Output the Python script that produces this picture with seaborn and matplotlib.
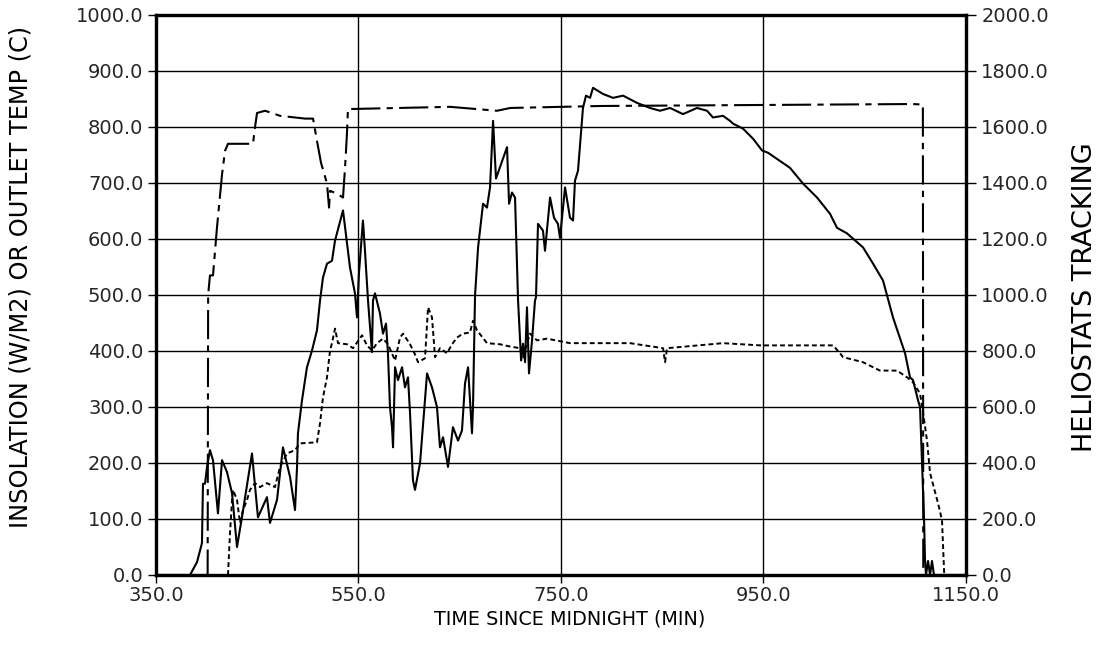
import matplotlib
matplotlib.use("Agg")
import matplotlib.pyplot as plt
import seaborn as sns
import numpy as np
import pandas as pd

# ---------------- data ----------------
# Insolation (W/M2), left axis, solid line
insol_t = [350, 383.6, 390.5, 395.4, 396.4, 398.4, 400.4, 403.3, 406.3, 411.2, 415.2,
           420.1, 425.1, 430.0, 434.9, 444.8, 450.7, 459.6, 462.6, 469.5, 475.4,
           482.4, 487.3, 489.3, 490.2, 494.2, 499.1, 504.1, 509.0, 512.0, 514.9,
           518.9, 523.8, 526.8, 534.7, 541.6, 546.5, 548.5, 550.5, 554.4, 556.4,
           559.4, 563.3, 564.3, 566.3, 571.2, 574.2, 577.2, 579.1, 581.1, 583.1,
           584.1, 586.1, 589.0, 593.0, 595.9, 598.9, 600.9, 603.8, 605.8, 610.8,
           617.7, 622.6, 627.5, 630.5, 633.5, 638.4, 643.3, 648.3, 652.2, 655.2,
           658.2, 662.1, 663.1, 665.1, 668.1, 673.0, 676.9, 679.9, 682.9, 685.8,
           696.7, 698.7, 701.6, 704.6, 707.6, 710.6, 712.5, 714.5, 716.4, 718.4,
           721.4, 724.3, 725.3, 727.3, 732.2, 734.2, 739.2, 743.1, 747.0, 749.0,
           754.0, 758.9, 761.9, 763.8, 766.8, 771.7, 774.7, 778.7, 781.6, 791.5,
           801.4, 811.3, 825.1, 837.9, 847.8, 857.7, 870.5, 884.3, 894.2, 900.1,
           910.0, 916.9, 919.9, 929.8, 939.7, 948.6, 954.5, 963.4, 976.2, 989.0,
           1002.9, 1015.7, 1022.6, 1032.5, 1048.3, 1058.2, 1068.0, 1077.9, 1089.8,
           1094.7, 1097.7, 1102.6, 1104.6, 1106.6, 1108.6, 1109.5, 1110.5, 1112.5,
           1114.5, 1116.4, 1118.4, 1150]
insol_v = [0, 0, 23, 57, 163, 163, 193, 223, 205, 110, 205,
           184, 146, 50, 103, 217, 103, 139, 93, 134, 228,
           175, 116, 193, 253, 312, 371, 401, 437, 490, 531,
           556, 561, 597, 651, 549, 503, 460, 540, 633, 579,
           490, 398, 490, 503, 467, 431, 449, 396, 300, 264,
           228, 371, 348, 371, 335, 353, 289, 169, 152, 200,
           360, 335, 300, 228, 246, 193, 264, 240, 258, 342,
           371, 253, 300, 499, 585, 663, 656, 692, 811, 708,
           764, 663, 683, 674, 490, 383, 413, 380, 478, 360,
           419, 490, 496, 627, 615, 579, 674, 638, 627, 602,
           692, 638, 633, 704, 722, 834, 856, 852, 870, 859,
           852, 856, 843, 834, 829, 834, 823, 834, 829, 817,
           820, 811, 806, 797, 779, 758, 754, 743, 727, 699,
           674, 645, 620, 610, 585, 556, 526, 460, 396,
           353, 348, 312, 300, 200, 98, 27, 0, 25,
           0, 25, 0, 0]

# Outlet temperature (C), left axis, short-dashed line
temp_t = [421.1, 423.1, 425.1, 426.1, 430.0, 433.0, 435.9, 439.9, 442.8, 447.8,
          452.7, 459.6, 467.5, 472.5, 479.4, 487.3, 492.2, 509.0, 512.0, 514.9,
          518.9, 521.9, 523.8, 526.8, 529.8, 538.7, 544.6, 553.5, 558.4, 563.3,
          568.3, 574.2, 579.1, 586.1, 591.0, 594.0, 600.9, 605.8, 608.8, 615.7,
          618.7, 622.6, 625.6, 630.5, 637.4, 642.4, 647.3, 653.2, 660.1, 663.1,
          667.0, 676.9, 689.8, 699.6, 709.5, 712.5, 719.4, 726.3, 736.2, 758.9,
          818.2, 850.8, 852.8, 854.7, 910.0, 947.0, 1018.7, 1025.6, 1028.6, 1048.3,
          1058.2, 1065.1, 1081.9, 1091.8, 1097.7, 1104.6, 1107.6, 1111.5, 1114.5,
          1122.4, 1126.3, 1128.3, 1128.6]
temp_v = [0, 75, 134, 152, 134, 93, 116, 134, 152, 164,
          157, 164, 157, 193, 217, 223, 235, 237, 271, 317,
          353, 401, 414, 440, 414, 412, 405, 428, 410, 401,
          414, 422, 412, 383, 424, 431, 412, 394, 380, 387,
          478, 460, 389, 405, 396, 412, 424, 431, 433, 454,
          437, 414, 412, 408, 405, 389, 431, 419, 422, 414,
          414, 405, 380, 405, 414, 410, 410, 396, 389, 380,
          371, 365, 365, 353, 344, 324, 290, 240, 182,
          128, 98, 9, 0]

# Heliostats tracking, right axis, long-dash-short-dash line
helio_t = [350, 401.0, 401.5, 403.3, 406.3, 410.2, 415.2, 418.2, 421.1, 445.8,
           447.8, 449.8, 457.7, 472.5, 497.2, 505.1, 509.0, 513.0, 518.9, 520.9,
           521.9, 528.8, 534.7, 536.7, 538.6, 539.6, 640.4, 686.8, 700.0, 788.5,
           1097.7, 1107.4, 1107.8, 1150]
helio_v = [0, 0, 1000, 1070, 1070, 1240, 1430, 1515, 1540, 1540,
           1600, 1650, 1658, 1640, 1630, 1630, 1550, 1472, 1398, 1312,
           1372, 1362, 1348, 1454, 1576, 1664, 1672, 1658, 1668, 1675,
           1682, 1680, 0, 0]

x_ticks = [350, 550, 750, 950, 1150]
y_left_ticks = list(range(0, 1001, 100))
y_right_ticks = list(range(0, 2001, 200))

# ---------------- plotting ----------------
sns.set_theme(style="white")
plt.rcParams['font.family'] = ['DejaVu Sans']

fig = plt.figure(figsize=(11.03, 6.54), dpi=100)
ax = fig.add_axes([0.14143, 0.12080, 0.73436, 0.85627])
ax2 = ax.twinx()

ink = "black"
sns.lineplot(x=insol_t, y=insol_v, ax=ax, color=ink, lw=1.5,
             sort=False, estimator=None)
sns.lineplot(x=temp_t, y=temp_v, ax=ax, color=ink, lw=1.4,
             linestyle=(0, (2.5, 1.6)), sort=False, estimator=None)
sns.lineplot(x=helio_t, y=helio_v, ax=ax2, color=ink, lw=1.5,
             linestyle=(0, (14, 3, 3, 3)), sort=False, estimator=None)

ax.set_xlim(350, 1150)
ax.set_ylim(0, 1000)
ax2.set_ylim(0, 2000)
ax.set_xticks(x_ticks)
ax.set_yticks(y_left_ticks)
ax2.set_yticks(y_right_ticks)
ax.set_xticklabels([f"{v:.1f}" for v in x_ticks])
ax.set_yticklabels([f"{v:.1f}" for v in y_left_ticks])
ax2.set_yticklabels([f"{v:.1f}" for v in y_right_ticks])

ax.grid(True, color=ink, lw=1.0)
ax2.grid(False)
ax.set_axisbelow(True)

for a in (ax, ax2):
    for s in a.spines.values():
        s.set_visible(True)
        s.set_color(ink)
        s.set_linewidth(2.3)

ax.tick_params(axis='both', direction='out', length=6, width=1.0, color=ink,
               labelsize=14, pad=3, bottom=True, left=True)
ax.tick_params(axis='x', pad=2)
ax2.tick_params(axis='y', direction='out', length=7, width=1.0, color=ink,
                labelsize=14, pad=4, right=True)

ax.set_xlabel("TIME SINCE MIDNIGHT (MIN)", fontsize=13.8, color=ink)
ax.set_ylabel("INSOLATION (W/M2) OR OUTLET TEMP (C)", fontsize=17.3, color=ink)
ax2.set_ylabel("HELIOSTATS TRACKING", fontsize=19.5, color=ink)
ax.xaxis.set_label_coords(0.511, -0.079)
ax.xaxis.label.set_va('center')
ax.yaxis.set_label_coords(-0.167, 0.532)
ax.yaxis.label.set_va('center')
ax2.yaxis.set_label_coords(1.147, 0.496)
ax2.yaxis.label.set_va('center')

fig.savefig("out.png", dpi=100, facecolor="white")
